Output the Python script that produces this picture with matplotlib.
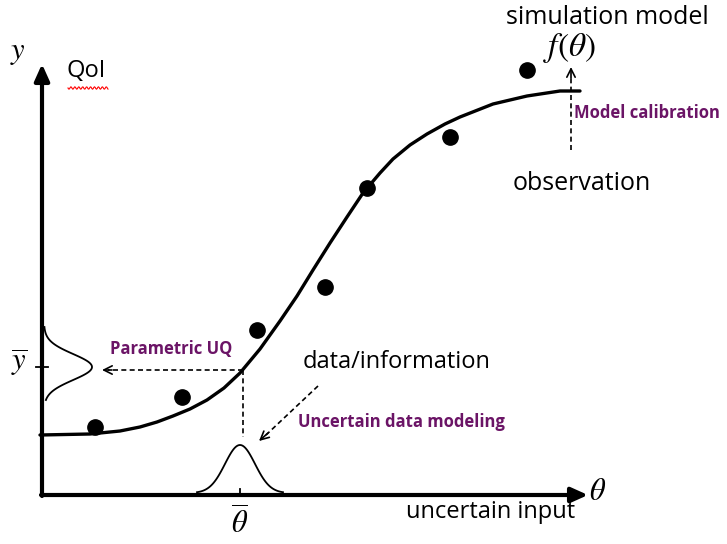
import numpy as np
import matplotlib.pyplot as plt

plt.rcParams['font.family'] = ['Open Sans', 'DejaVu Sans']
plt.rcParams['mathtext.fontset'] = 'stix'

# model curve f(theta) (pixel-like units, y down)
curve_x = [40, 90, 120, 140, 157, 173, 190, 207, 224, 240, 260, 280, 297, 313, 330,
           347, 363, 380, 393, 410, 427, 445, 460, 493, 527, 560, 580]
curve_y = [435, 434, 431, 427, 422, 416, 409, 400, 388, 373, 349, 321, 296, 270, 243,
           217, 193, 173, 159, 145, 134, 124, 117, 104, 96, 91, 91]

# observations
obs_x = [95, 182, 257, 325, 367, 450, 527]
obs_y = [427, 397, 330, 287, 188, 137, 70]

# axis frame
x0, y0 = 42, 495
x_end, y_end = 588, 64

# uncertainty bells (center, spread, height)
theta_bar, theta_sd, theta_h = 240, 15, 48
y_bar, y_sd, y_h = 367, 13, 48

purple = '#6b1466'

fig = plt.figure(figsize=(7.27, 5.44), dpi=100)
ax = fig.add_axes([0, 0, 1, 1])
ax.set_xlim(0, 727)
ax.set_ylim(544, 0)
ax.axis('off')

# axes with arrows
ax.annotate('', xy=(x_end, y0), xytext=(x0 - 1, y0),
            arrowprops=dict(arrowstyle='-|>,head_length=1.0,head_width=0.45', lw=3,
                            color='black', shrinkA=0, shrinkB=0))
ax.annotate('', xy=(x0, y_end), xytext=(x0, y0 + 1),
            arrowprops=dict(arrowstyle='-|>,head_length=1.0,head_width=0.45', lw=3,
                            color='black', shrinkA=0, shrinkB=0))

# model curve and data points
ax.plot(curve_x, curve_y, color='black', lw=2.4, solid_capstyle='round',
        solid_joinstyle='round')
ax.plot(obs_x, obs_y, 'o', color='black', markersize=11)

# bell on the theta axis
t = np.linspace(theta_bar - 43, theta_bar + 43, 100)
ax.plot(t, y0 - 2 - theta_h * np.exp(-0.5 * ((t - theta_bar) / theta_sd) ** 2), color='black', lw=1.3)
ax.plot([theta_bar, theta_bar], [y0 - 6, y0], color='black', lw=1.3)

# bell on the y axis
s = np.linspace(y_bar - 40, y_bar + 33, 100)
ax.plot(x0 + 2 + y_h * np.exp(-0.5 * ((s - y_bar) / y_sd) ** 2), s, color='black', lw=1.3)
ax.plot([x0 - 6, x0 + 6], [y_bar, y_bar], color='black', lw=1.3)

# dashed guides
ax.plot([243, 243], [370, 437], color='black', lw=1.2, ls=(0, (3, 2)))
ax.plot([243, 108], [370, 370], color='black', lw=1.2, ls=(0, (3, 2)))
ax.annotate('', xy=(102, 370), xytext=(112, 370),
            arrowprops=dict(arrowstyle='->,head_length=0.6,head_width=0.3', lw=1.2,
                            color='black', shrinkA=0, shrinkB=0))
ax.plot([318, 266], [386, 435], color='black', lw=1.2, ls=(0, (3, 2)))
ax.annotate('', xy=(259, 441), xytext=(268, 433),
            arrowprops=dict(arrowstyle='->,head_length=0.6,head_width=0.3', lw=1.2,
                            color='black', shrinkA=0, shrinkB=0))
ax.plot([571, 571], [150, 75], color='black', lw=1.2, ls=(0, (3, 2)))
ax.annotate('', xy=(571, 67), xytext=(571, 78),
            arrowprops=dict(arrowstyle='->,head_length=0.6,head_width=0.3', lw=1.2,
                            color='black', shrinkA=0, shrinkB=0))

# labels
ax.text(18, 52, '$y$', fontsize=22, ha='center', va='center')
ax.text(67, 71, 'QoI', fontsize=17, ha='left', va='center')
w = np.linspace(68, 108, 60)
ax.plot(w, 88 + 1.2 * np.sin((w - 68) * 1.6), color='red', lw=0.8)
ax.text(607, 18, 'simulation model', fontsize=18, ha='center', va='center')
ax.text(569, 48, r'$f(\theta)$', fontsize=24, ha='center', va='center')
ax.text(574, 113, 'Model calibration', fontsize=12, fontweight='bold', color=purple,
        ha='left', va='center')
ax.text(582, 184, 'observation', fontsize=18, ha='center', va='center')
ax.text(171, 349, 'Parametric UQ', fontsize=12, fontweight='bold', color=purple,
        ha='center', va='center')
ax.text(19, 363, r'$\overline{y}$', fontsize=22, ha='center', va='center')
ax.text(397, 362, 'data/information', fontsize=17, ha='center', va='center')
ax.text(401, 422, 'Uncertain data modeling', fontsize=12, fontweight='bold', color=purple,
        ha='center', va='center')
ax.text(598, 492, r'$\theta$', fontsize=22, ha='center', va='center')
ax.text(491, 512, 'uncertain input', fontsize=17, ha='center', va='center')
ax.text(240, 524, r'$\overline{\theta}$', fontsize=22, ha='center', va='center')

fig.savefig('out.png', dpi=100)
